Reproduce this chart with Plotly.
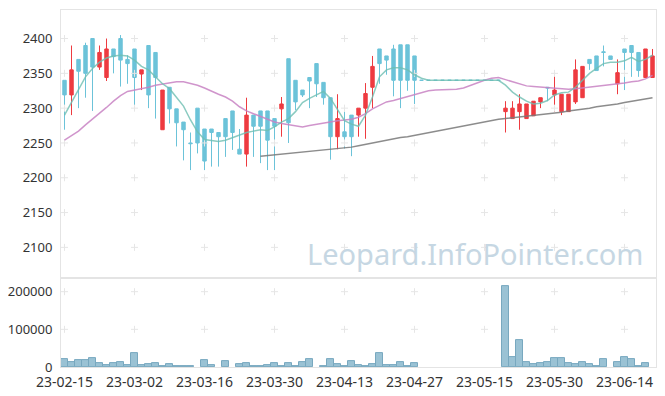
import plotly.graph_objects as go

dates = [
    "23-02-15", "23-02-16", "23-02-17", "23-02-20", "23-02-21", "23-02-22", "23-02-23", "23-02-24", "23-02-27", "23-02-28",
    "23-03-02", "23-03-03", "23-03-06", "23-03-07", "23-03-08", "23-03-09", "23-03-10", "23-03-13", "23-03-14", "23-03-15",
    "23-03-16", "23-03-17", "23-03-20", "23-03-21", "23-03-22", "23-03-23", "23-03-24", "23-03-27", "23-03-28", "23-03-29",
    "23-03-30", "23-03-31", "23-04-03", "23-04-04", "23-04-05", "23-04-06", "23-04-07", "23-04-10", "23-04-11", "23-04-12",
    "23-04-13", "23-04-14", "23-04-17", "23-04-18", "23-04-19", "23-04-20", "23-04-21", "23-04-24", "23-04-25", "23-04-26",
    "23-04-27", "23-04-28", "23-05-02", "23-05-03", "23-05-04", "23-05-08", "23-05-09", "23-05-10", "23-05-11", "23-05-12",
    "23-05-15", "23-05-16", "23-05-17", "23-05-18", "23-05-19", "23-05-22", "23-05-23", "23-05-24", "23-05-25", "23-05-26",
    "23-05-30", "23-05-31", "23-06-01", "23-06-02", "23-06-05", "23-06-07", "23-06-08", "23-06-09", "23-06-12", "23-06-13",
    "23-06-14", "23-06-15", "23-06-16", "23-06-19", "23-06-20",
]

open_ = [
    2340, 2319, 2370, 2390, 2400, 2359, 2344, 2385, 2400, 2370,
    2385, 2349, 2390, 2380, 2269, 2330, 2299, 2280, 2250, 2300,
    2270, 2270, 2265, 2285, 2296, 2241, 2234, 2290, 2296, 2296,
    2285, 2299, 2371, 2340, 2326, 2344, 2364, 2337, 2315, 2259,
    2266, 2290, 2290, 2300, 2330, 2385, 2375, 2385, 2391, 2391,
    2375, 2340, 2340, 2340, 2340, 2340, 2340, 2340, 2340, 2340,
    2340, 2340, 2340, 2295, 2285, 2295, 2285, 2289, 2309, 2330,
    2319, 2295, 2295, 2309, 2315, 2370, 2375, 2381, 2375, 2335,
    2385, 2390, 2380, 2344, 2344,
]
high = [
    2340, 2390, 2370, 2394, 2400, 2390, 2400, 2385, 2405, 2376,
    2385, 2355, 2390, 2380, 2326, 2330, 2299, 2280, 2265, 2300,
    2270, 2270, 2265, 2285, 2296, 2270, 2315, 2290, 2296, 2296,
    2285, 2316, 2371, 2340, 2326, 2344, 2364, 2337, 2315, 2320,
    2295, 2290, 2300, 2336, 2375, 2385, 2375, 2391, 2391, 2391,
    2375, 2340, 2340, 2340, 2340, 2340, 2340, 2340, 2340, 2340,
    2340, 2340, 2340, 2310, 2310, 2320, 2306, 2310, 2315, 2330,
    2351, 2320, 2320, 2370, 2360, 2370, 2375, 2390, 2375, 2370,
    2385, 2390, 2380, 2385, 2385,
]
low = [
    2269, 2290, 2300, 2315, 2296, 2355, 2339, 2350, 2331, 2335,
    2300, 2326, 2300, 2285, 2269, 2278, 2245, 2225, 2211, 2235,
    2211, 2216, 2216, 2230, 2240, 2234, 2216, 2230, 2221, 2211,
    2211, 2259, 2250, 2297, 2316, 2300, 2316, 2305, 2226, 2241,
    2242, 2231, 2259, 2256, 2300, 2335, 2348, 2317, 2300, 2325,
    2306, 2340, 2340, 2340, 2340, 2340, 2340, 2340, 2340, 2340,
    2340, 2340, 2340, 2265, 2285, 2269, 2285, 2289, 2300, 2310,
    2295, 2290, 2295, 2306, 2315, 2355, 2354, 2360, 2370, 2320,
    2326, 2345, 2345, 2344, 2344,
]
close = [
    2319, 2355, 2353, 2350, 2359, 2380, 2385, 2374, 2369, 2364,
    2344, 2355, 2319, 2344, 2326, 2299, 2279, 2269, 2249, 2250,
    2224, 2265, 2259, 2259, 2265, 2234, 2290, 2274, 2274, 2254,
    2274, 2306, 2279, 2309, 2319, 2339, 2335, 2315, 2259, 2285,
    2259, 2259, 2300, 2321, 2360, 2364, 2369, 2340, 2340, 2340,
    2340, 2340, 2340, 2340, 2340, 2340, 2340, 2340, 2340, 2340,
    2340, 2340, 2340, 2300, 2300, 2306, 2306, 2310, 2315, 2329,
    2326, 2320, 2320, 2355, 2360, 2364, 2354, 2380, 2370, 2351,
    2380, 2380, 2354, 2385, 2375,
]
volume = [
    21000, 14000, 19000, 19000, 24000, 10500, 6000, 10500, 13000, 6000,
    37000, 6000, 8000, 10500, 3500, 8000, 3500, 3500, 3500, 0,
    19000, 6000, 0, 16500, 0, 8000, 10500, 3500, 3500, 6000,
    10500, 3500, 10500, 3500, 14000, 21000, 0, 3500, 21000, 8000,
    3500, 16500, 6000, 3500, 8000, 37000, 5300, 5300, 14000, 3500,
    10500, 0, 0, 0, 0, 0, 0, 0, 0, 0,
    0, 0, 0, 215000, 26400, 72200, 14100, 8000, 10600, 14100,
    24700, 24700, 10600, 8000, 14100, 8000, 3500, 22000, 0, 14100,
    26400, 22000, 3500, 10600, 0,
]
ma5 = [
    2290, 2309, 2328, 2345, 2357, 2366, 2372, 2375, 2376, 2375,
    2369, 2360, 2355, 2345, 2335, 2328, 2316, 2303, 2283, 2266,
    2255, 2253, 2252, 2254, 2258, 2261, 2265, 2267, 2269, 2268,
    2273, 2280, 2285, 2295, 2308, 2314, 2319, 2324, 2314, 2297,
    2282, 2277, 2274, 2290, 2316, 2345, 2355, 2358, 2358, 2355,
    2348, 2343, 2340, 2340, 2340, 2340, 2340, 2340, 2340, 2340,
    2340, 2340, 2340, 2333, 2323, 2316, 2310, 2306, 2307, 2311,
    2319, 2322, 2323, 2330, 2340, 2350, 2357, 2364, 2366, 2366,
    2368, 2373, 2367, 2370, 2376,
]
ma20 = [
    2254, 2260, 2267, 2276, 2284, 2292, 2301, 2310, 2318, 2324,
    2326, 2327, 2330, 2333, 2335, 2337, 2338, 2338, 2336, 2333,
    2329, 2324, 2320, 2316, 2310, 2302, 2296, 2292, 2288, 2284,
    2280, 2278, 2276, 2274, 2273, 2275, 2277, 2279, 2281, 2282,
    2283, 2284, 2287, 2292, 2299, 2304, 2309, 2311, 2314, 2317,
    2320, 2323, 2325, 2326, 2326, 2326, 2327, 2329, 2333, 2336,
    2340, 2343, 2344, 2341, 2338, 2334, 2332, 2331, 2330, 2330,
    2329, 2328, 2327, 2328, 2329, 2330, 2331, 2332, 2333, 2335,
    2336, 2338, 2339, 2342, 2347,
]
ma60 = [
    None, None, None, None, None, None, None, None, None, None,
    None, None, None, None, None, None, None, None, None, None,
    None, None, None, None, None, None, None, None, 2231, 2232,
    2233, 2234, 2234, 2235, 2236, 2237, 2238, 2240, 2241, 2242,
    2243, 2244, 2246, 2248, 2250, 2252, 2255, 2256, 2258, 2259,
    2261, 2263, 2265, 2267, 2269, 2271, 2273, 2275, 2277, 2279,
    2281, 2282, 2284, 2285, 2286, 2287, 2289, 2290, 2291, 2292,
    2293, 2294, 2296, 2297, 2299, 2300, 2302, 2303, 2305, 2306,
    2308, 2310, 2311, 2313, 2315,
]
tick_labels = ["23-02-15", "23-03-02", "23-03-16", "23-03-30", "23-04-13",
               "23-04-27", "23-05-15", "23-05-30", "23-06-14"]
price_ticks = [2100, 2150, 2200, 2250, 2300, 2350, 2400]
volume_ticks = [0, 100000, 200000]

UP = "#ee3b40"
DOWN = "#6cc3d9"
GRID = "#e6e6e6"
AXIS = "#e4e4e4"
FAMILY = "Noto Sans, DejaVu Sans, sans-serif"
YFONT = dict(family=FAMILY, size=13, color="#333333")
XFONT = dict(family=FAMILY, size=14, color="#333333")

fig = go.Figure()

# faint grid crosses at tick intersections
gx, gy = [], []
for t in tick_labels:
    for p in price_ticks:
        gx.append(t)
        gy.append(p)
fig.add_trace(go.Scatter(x=gx, y=gy, mode="markers", xaxis="x", yaxis="y",
                         marker=dict(symbol="cross-thin", size=5, line=dict(color=GRID, width=1)),
                         hoverinfo="skip", showlegend=False))
vx, vy = [], []
for t in tick_labels:
    for v in volume_ticks[1:]:
        vx.append(t)
        vy.append(v)
fig.add_trace(go.Scatter(x=vx, y=vy, mode="markers", xaxis="x2", yaxis="y2",
                         marker=dict(symbol="cross-thin", size=5, line=dict(color=GRID, width=1)),
                         hoverinfo="skip", showlegend=False))

fig.add_trace(go.Scatter(x=dates, y=ma60, mode="lines", xaxis="x", yaxis="y",
                         line=dict(color="rgba(120,120,120,0.85)", width=1.5),
                         hoverinfo="skip", showlegend=False))
fig.add_trace(go.Scatter(x=dates, y=ma20, mode="lines", xaxis="x", yaxis="y",
                         line=dict(color="rgba(200,130,195,0.85)", width=1.5),
                         hoverinfo="skip", showlegend=False))

fig.add_trace(go.Candlestick(
    x=dates, open=open_, high=high, low=low, close=close, xaxis="x", yaxis="y",
    increasing=dict(line=dict(color=UP, width=1), fillcolor=UP),
    decreasing=dict(line=dict(color=DOWN, width=1), fillcolor=DOWN),
    whiskerwidth=0, showlegend=False, hoverinfo="skip"))

fig.add_trace(go.Scatter(x=dates, y=ma5, mode="lines", xaxis="x", yaxis="y",
                         line=dict(color="rgba(110,190,178,0.8)", width=1.5),
                         hoverinfo="skip", showlegend=False))

fig.add_trace(go.Bar(x=dates, y=[v if v else None for v in volume], xaxis="x2", yaxis="y2",
                     marker=dict(color="#9ac2d4", line=dict(color="#78a8bf", width=1)),
                     hoverinfo="skip", showlegend=False))

fig.add_annotation(text="Leopard.InfoPointer.com", xref="paper", yref="paper",
                   x=0.696, y=0.319, xanchor="center", yanchor="middle", showarrow=False,
                   font=dict(family=FAMILY, size=29, color="#c6d7e3"))

# the page body has an 8px default margin, so the figure is sized to fit the window
xrange = [-0.5, len(dates) - 0.5]
fig.update_layout(
    width=657, height=388,
    margin=dict(l=53, r=9, t=2, b=29, autoexpand=False),
    paper_bgcolor="white", plot_bgcolor="white",
    font=YFONT, bargap=0, boxgap=0.3,
    xaxis=dict(domain=[0, 1], anchor="y", type="category", range=xrange,
               categoryorder="array", categoryarray=dates, automargin=False,
               showticklabels=False, showgrid=False, zeroline=False,
               showline=True, mirror=True, linecolor=AXIS, linewidth=1,
               rangeslider=dict(visible=False)),
    yaxis=dict(domain=[0.2493, 1], anchor="x", range=[2056, 2441], automargin=False,
               tickvals=price_ticks, showgrid=False, zeroline=False,
               showline=True, mirror=True, linecolor=AXIS, linewidth=1,
               ticks="", ticklabelstandoff=5, tickfont=YFONT),
    xaxis2=dict(domain=[0, 1], anchor="y2", type="category", range=xrange,
                categoryorder="array", categoryarray=dates, automargin=False,
                tickvals=tick_labels, ticktext=tick_labels, showgrid=False, zeroline=False,
                showline=True, mirror=True, linecolor=AXIS, linewidth=1,
                ticks="", ticklabelstandoff=2, tickfont=XFONT,
                rangeslider=dict(visible=False)),
    yaxis2=dict(domain=[0, 0.249], anchor="x2", range=[0, 236000], automargin=False,
                tickvals=volume_ticks, tickformat="d", showgrid=False, zeroline=False,
                showline=True, mirror=True, linecolor=AXIS, linewidth=1,
                ticks="", ticklabelstandoff=5, tickfont=YFONT),
)

fig.write_html("out.html")
